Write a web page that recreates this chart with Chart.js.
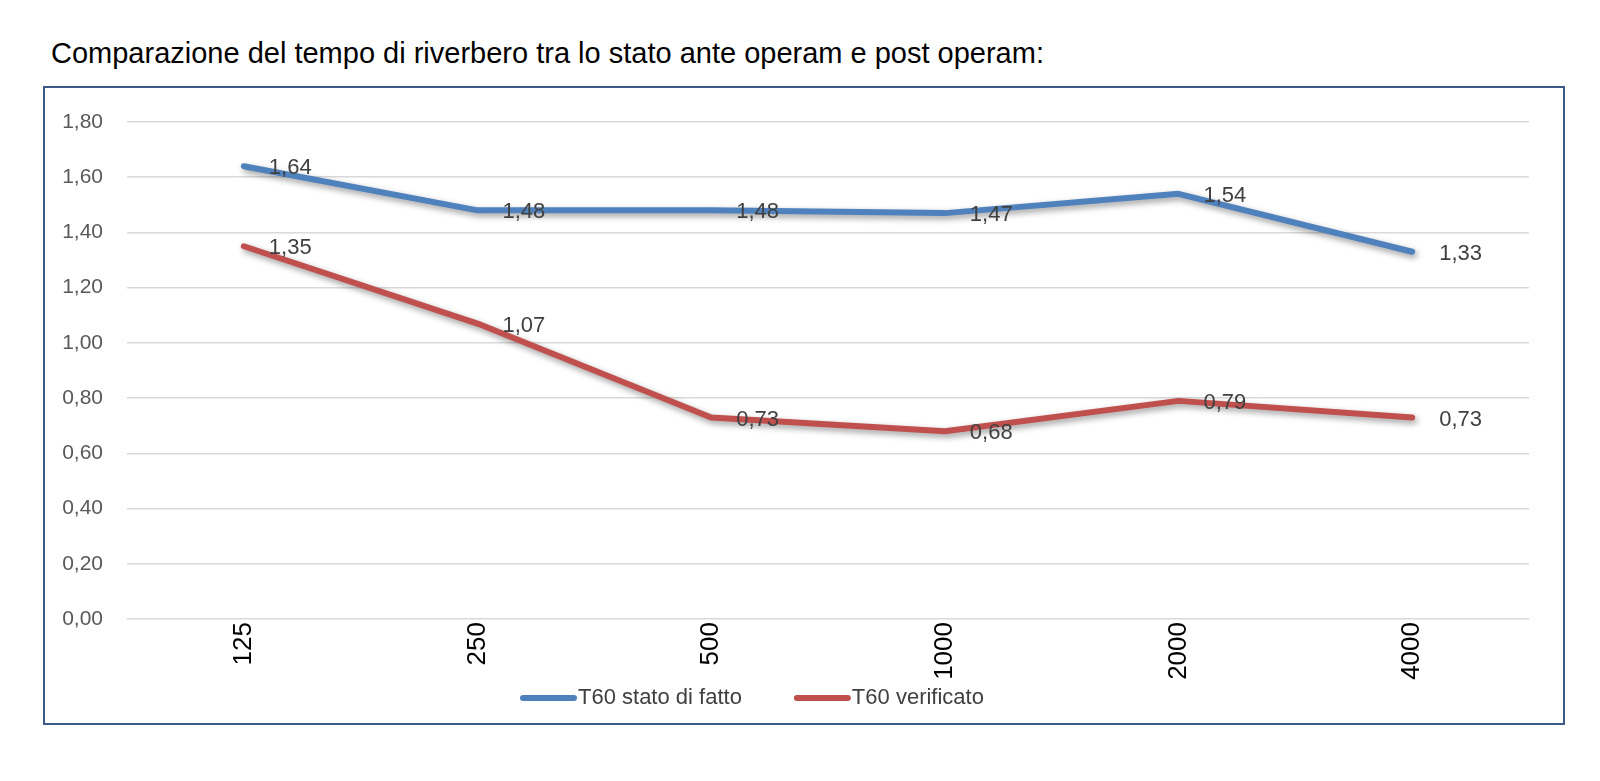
<!DOCTYPE html>
<html lang="it">
<head>
    <meta charset="UTF-8">
    <title>Tempo di riverbero</title>
    <script src="https://cdn.jsdelivr.net/npm/chart.js"></script>
    <style>
        body {
            margin: 0;
            width: 1600px;
            height: 781px;
            background: #fff;
            position: relative;
            overflow: hidden;
            font-family: "Liberation Sans", Arial, sans-serif;
        }
        .title {
            position: absolute;
            left: 51px;
            top: 38px;
            font-size: 29px;
            line-height: 30px;
            color: #000;
            white-space: nowrap;
        }
        .box {
            position: absolute;
            left: 43px;
            top: 86px;
            width: 1518px;
            height: 635px;
            border: 2px solid #3b5a86;
        }
        #wrap {
            position: absolute;
            left: 0;
            top: 0;
            width: 1600px;
            height: 781px;
        }
    </style>
</head>
<body>
    <div class="title">Comparazione del tempo di riverbero tra lo stato ante operam e post operam:</div>
    <div class="box"></div>
    <div id="wrap"><canvas id="chart"></canvas></div>

    <script>
        // frequenze (Hz)
        const frequenze = ['125', '250', '500', '1000', '2000', '4000'];
        // T60 misurati
        const t60StatoDiFatto = [1.64, 1.48, 1.48, 1.47, 1.54, 1.33];
        const t60Verificato = [1.35, 1.07, 0.73, 0.68, 0.79, 0.73];
        const nomiSerie = ['T60 stato di fatto', 'T60 verificato'];
        const coloriSerie = ['#4f81bd', '#c0504d'];

        const grigio = '#595959';
        const famiglia = '"Liberation Sans", Arial, sans-serif';
        const fmt = v => v.toFixed(2).replace('.', ',');

        // ombra sotto le linee
        const ombraPlugin = {
            id: 'ombra',
            beforeDatasetsDraw(chart) {
                const ctx = chart.ctx;
                ctx.save();
                ctx.shadowColor = 'rgba(0,0,0,0.4)';
                ctx.shadowBlur = 6;
                ctx.shadowOffsetX = 2;
                ctx.shadowOffsetY = 3;
            },
            afterDatasetsDraw(chart) {
                chart.ctx.restore();
            }
        };

        // etichette dei valori a destra dei punti
        const etichettePlugin = {
            id: 'etichette',
            afterDatasetsDraw(chart) {
                const ctx = chart.ctx;
                ctx.save();
                ctx.font = '22px ' + famiglia;
                ctx.fillStyle = '#404040';
                ctx.textAlign = 'left';
                ctx.textBaseline = 'middle';
                chart.data.datasets.forEach((ds, i) => {
                    const meta = chart.getDatasetMeta(i);
                    meta.data.forEach((pt, j) => {
                        const dx = j === meta.data.length - 1 ? 27 : 25;
                        ctx.fillText(fmt(ds.data[j]), pt.x + dx, pt.y + 2);
                    });
                });
                ctx.restore();
            }
        };

        // legenda in basso
        const legendaPlugin = {
            id: 'legenda',
            afterDraw(chart) {
                const ctx = chart.ctx;
                ctx.save();
                ctx.font = '22px ' + famiglia;
                ctx.textBaseline = 'middle';
                ctx.textAlign = 'left';
                let x = 520;
                const y = 698;
                chart.data.datasets.forEach(ds => {
                    ctx.strokeStyle = ds.borderColor;
                    ctx.lineWidth = 6;
                    ctx.lineCap = 'round';
                    ctx.beginPath();
                    ctx.moveTo(x + 3, y);
                    ctx.lineTo(x + 54, y);
                    ctx.stroke();
                    ctx.fillStyle = '#404040';
                    ctx.fillText(ds.label, x + 58, y);
                    x += 58 + ctx.measureText(ds.label).width + 52;
                });
                ctx.restore();
            }
        };

        const datasets = [t60StatoDiFatto, t60Verificato].map((d, i) => ({
            label: nomiSerie[i],
            data: d,
            borderColor: coloriSerie[i],
            backgroundColor: coloriSerie[i],
            borderWidth: 6,
            borderCapStyle: 'round',
            borderJoinStyle: 'round',
            pointRadius: 0,
            tension: 0,
            fill: false
        }));

        new Chart(document.getElementById('chart'), {
            type: 'line',
            data: { labels: frequenze, datasets },
            options: {
                responsive: true,
                maintainAspectRatio: false,
                animation: false,
                layout: { padding: { left: 0, top: 122, right: 71, bottom: 82 } },
                plugins: {
                    legend: { display: false },
                    tooltip: { enabled: false }
                },
                scales: {
                    x: {
                        offset: true,
                        grid: { display: false, drawTicks: false },
                        border: { display: false },
                        ticks: {
                            color: '#000',
                            font: { size: 26, family: famiglia },
                            minRotation: 90,
                            maxRotation: 90,
                            padding: 3
                        },
                        afterFit(s) { s.height = 80; }
                    },
                    y: {
                        min: 0,
                        max: 1.8,
                        grid: { color: '#d9d9d9', lineWidth: 1.5, drawTicks: false },
                        border: { display: false },
                        ticks: {
                            stepSize: 0.2,
                            color: grigio,
                            padding: 24,
                            font: { size: 21, family: famiglia },
                            callback: v => fmt(v)
                        },
                        afterFit(s) { s.width = 127; }
                    }
                }
            },
            plugins: [ombraPlugin, etichettePlugin, legendaPlugin]
        });
    </script>
</body>
</html>
